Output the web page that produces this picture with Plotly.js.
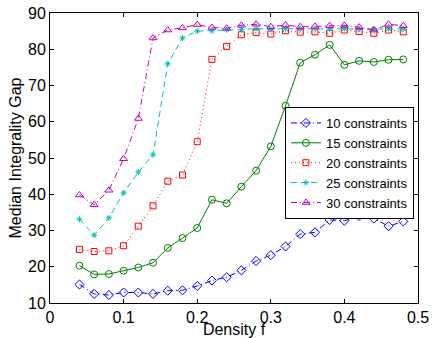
<!DOCTYPE html>
<html>
<head>
<meta charset="utf-8">
<script src="https://cdn.plot.ly/plotly-3.0.1.min.js"></script>
<style>html,body{margin:0;padding:0;background:#fff;}#chart{width:432px;height:338px;}</style>
</head>
<body>
<div id="chart"></div>
<script>
const density = [0.04,0.06,0.08,0.10,0.12,0.14,0.16,0.18,0.20,0.22,0.24,0.26,0.28,0.30,0.32,0.34,0.36,0.38,0.40,0.42,0.44,0.46,0.48];
const c10 = [15.1,12.5,12.2,12.9,12.9,12.5,13.4,13.5,14.7,16.2,17.1,19.0,21.6,23.2,25.6,29.0,29.5,32.9,32.7,34.0,33.3,31.2,32.5];
const c15 = [20.3,17.9,18.0,18.9,19.8,21.1,25.2,27.9,30.7,38.5,37.5,42.1,46.5,53.2,64.4,76.3,78.5,81.2,75.7,76.8,76.5,77.1,77.2];
const c20 = [24.8,24.2,24.4,25.8,31.2,36.8,43.6,45.3,54.5,77.2,80.8,84.0,84.6,84.2,85.1,84.7,84.8,84.4,85.3,84.9,84.4,85.3,84.8];
const c25 = [33.1,28.7,33.5,40.4,46.1,50.9,76.0,83.1,85.0,85.1,85.4,85.4,85.7,85.5,85.7,85.6,85.7,85.6,85.7,85.5,85.6,85.7,85.6];
const c30 = [39.8,37.1,41.1,49.8,60.9,83.1,85.3,85.9,86.8,86.0,85.8,86.6,86.9,86.2,86.7,86.2,86.3,86.5,86.6,86.1,85.3,86.9,86.5];
const names = ["10 constraints","15 constraints","20 constraints","25 constraints","30 constraints"];

const styles = [
  {color:"#0000FF", dash:"6px,3px,1px,3px", symbol:"diamond-open", size:7},
  {color:"#008000", dash:"solid", symbol:"circle-open", size:7},
  {color:"#FF0000", dash:"1px,3px", symbol:"square-open", size:6},
  {color:"#00BFBF", dash:"6px,4px", symbol:"asterisk-open", size:5},
  {color:"#BF00BF", dash:"6px,3px,1px,3px", symbol:"triangle-up-open", size:7}
];
const series = [c10,c15,c20,c25,c30];
const traces = series.map((ys,i)=>({
  x: density, y: ys, name: names[i], type:"scatter", mode:"lines+markers",
  line:{color:styles[i].color, width:1, dash:styles[i].dash},
  marker:{symbol:styles[i].symbol, size:styles[i].size, color:styles[i].color, line:{color:styles[i].color, width:1}}
}));

const font = {family:"Liberation Sans, Arial, sans-serif", size:16, color:"#000"};
const legendFont = {family:"Liberation Sans, Arial, sans-serif", size:13, color:"#000"};
const axisCommon = {showgrid:false, zeroline:false, showline:true, linecolor:"#000", linewidth:1,
  ticks:"inside", ticklen:4, tickcolor:"#000", mirror:"ticks", tickfont:font};

const layout = {
  width:432, height:338,
  margin:{l:50, r:14, t:13, b:35},
  paper_bgcolor:"#fff", plot_bgcolor:"#fff",
  font: font,
  showlegend:true,
  legend:{x:0.989, xanchor:"right", y:0.676, yanchor:"top", bgcolor:"#fff", bordercolor:"#000", borderwidth:1,
    font:legendFont, tracegroupgap:0, itemwidth:30},
  xaxis: Object.assign({}, axisCommon, {range:[0,0.5], dtick:0.1, tick0:0,
    title:{text:"Density f", font:font, standoff:4}}),
  yaxis: Object.assign({}, axisCommon, {range:[10,90], dtick:10, tick0:10,
    title:{text:"Median Integrality Gap", font:font, standoff:2}})
};
Plotly.newPlot("chart", traces, layout, {displayModeBar:false, staticPlot:true});
</script>
</body>
</html>
